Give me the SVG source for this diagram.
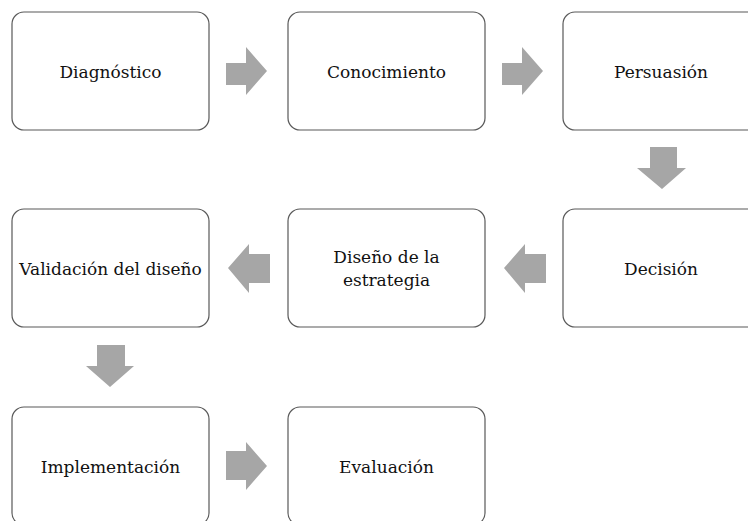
<svg xmlns="http://www.w3.org/2000/svg" width="748" height="521" viewBox="0 0 748 521">
<style>
.box{fill:#fff;stroke:#595959;stroke-width:1.2}
.lbl{font-family:'DejaVu Serif',serif;font-size:17px;fill:#111;text-anchor:middle}
.arr{fill:#A6A6A6}
</style>
<rect width="748" height="521" fill="#fff"/>
<g id="connectors">
<polygon class="arr" points="226,63 246,63 246,47 267,71 246,95 246,85 226,85"/>
<polygon class="arr" points="502,63 522,63 522,47 543,71 522,95 522,85 502,85"/>
<polygon class="arr" points="650,147 677,147 677,168 686,168 662,189 637,168 650,168"/>
<polygon class="arr" points="546,254 525,254 525,244 504,268 525,293 525,283 546,283"/>
<polygon class="arr" points="270,254 249,254 249,244 228,268 249,293 249,283 270,283"/>
<polygon class="arr" points="97,345 125,345 125,366 134,366 110,387 86,366 97,366"/>
<polygon class="arr" points="226,451 246,451 246,442 267,466 246,490 246,480 226,480"/>
</g>
<g id="n1"><rect class="box" x="12" y="12" width="197" height="118" rx="12"/><text class="lbl" x="110.5" y="78">Diagnóstico</text></g>
<g id="n2"><rect class="box" x="288" y="12" width="197" height="118" rx="12"/><text class="lbl" x="386.5" y="78">Conocimiento</text></g>
<g id="n3"><rect class="box" x="563" y="12" width="197" height="118" rx="12"/><text class="lbl" x="661" y="78">Persuasión</text></g>
<g id="n4"><rect class="box" x="563" y="209" width="197" height="118" rx="12"/><text class="lbl" x="661" y="275">Decisión</text></g>
<g id="n5"><rect class="box" x="288" y="209" width="197" height="118" rx="12"/><text class="lbl" x="386.5" y="263">Diseño de la</text><text class="lbl" x="386.5" y="286">estrategia</text></g>
<g id="n6"><rect class="box" x="12" y="209" width="197" height="118" rx="12"/><text class="lbl" x="110.5" y="275">Validación del diseño</text></g>
<g id="n7"><rect class="box" x="12" y="407" width="197" height="118" rx="12"/><text class="lbl" x="110.5" y="473">Implementación</text></g>
<g id="n8"><rect class="box" x="288" y="407" width="197" height="118" rx="12"/><text class="lbl" x="386.5" y="473">Evaluación</text></g>
</svg>
